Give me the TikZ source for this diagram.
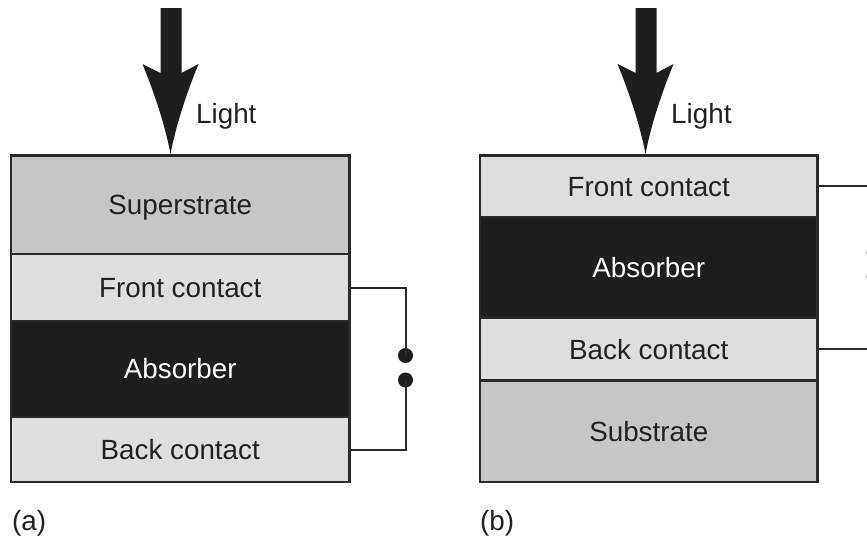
\documentclass[tikz,border=0pt]{standalone}
\usepackage{fontspec}
\setmainfont{Liberation Sans}
\definecolor{subgray}{HTML}{C6C6C7}
\definecolor{congray}{HTML}{DDDEE0}
\definecolor{absblack}{HTML}{1F1E1D}
\definecolor{edge}{HTML}{2A2A2A}
\definecolor{txt}{HTML}{222222}
\tikzset{
  layer/.style={draw=edge, line width=2.6pt, rectangle, inner sep=0pt,
    font=\fontsize{27.8}{32}\selectfont, text=txt, text height=19.9pt, text depth=0pt},
  wire/.style={draw=edge, line width=2pt},
  dotnode/.style={circle, fill=absblack, inner sep=0pt, minimum size=15pt},
  lbl/.style={font=\fontsize{27.8}{32}\selectfont, text=txt, inner sep=0pt, text height=19.9pt, text depth=0pt},
  bigarrow/.style={fill=absblack, draw=none}
}
\begin{document}
\begin{tikzpicture}[x=1pt,y=-1pt]
\clip (0,0) rectangle (867,536);
\fill[white] (0,0) rectangle (867,536);
% ---------- (a) ----------
\node[layer, fill=subgray, minimum width=338.5pt, minimum height=98.5pt] (supA) at (180.25,204.75) {Superstrate};
\node[layer, fill=congray, minimum width=338.5pt, minimum height=67pt] (fcA) at (180.25,287.5) {Front contact};
\node[layer, fill=absblack, text=white, minimum width=338.5pt, minimum height=96pt] (abA) at (180.25,369) {Absorber};
\node[layer, fill=congray, minimum width=338.5pt, minimum height=65pt] (bcA) at (180.25,449.5) {Back contact};
\node[dotnode] (dA1) at (405.5,355.5) {};
\node[dotnode] (dA2) at (405.5,380) {};
\draw[wire] (fcA.east) -| (dA1.center);
\draw[wire] (bcA.east) -| (dA2.center);
% arrow a
\fill[bigarrow] (160.5,8) -- (181.5,8) -- (181.5,73) -- (198.5,64)
  .. controls (186,95) and (176,125) .. (170.5,154)
  .. controls (165,125) and (155,95) .. (142.5,64)
  -- (160.5,73) -- cycle;
\node[lbl, anchor=west] (lightA) at (196,114) {Light};
\node[lbl, anchor=west] (labA) at (12,521) {(a)};
% ---------- (b) ----------
\node[layer, fill=congray, minimum width=337.5pt, minimum height=61.5pt] (fcB) at (648.75,186.25) {Front contact};
\node[layer, fill=absblack, text=white, minimum width=337.5pt, minimum height=101pt] (abB) at (648.75,267.5) {Absorber};
\node[layer, fill=congray, minimum width=337.5pt, minimum height=62.5pt] (bcB) at (648.75,349.25) {Back contact};
\node[layer, fill=subgray, minimum width=337.5pt, minimum height=101.5pt] (subB) at (648.75,431.25) {Substrate};
\node[dotnode] (dB1) at (874,253) {};
\node[dotnode] (dB2) at (874,277) {};
\draw[wire] (fcB.east) -| (dB1.center);
\draw[wire] (bcB.east) -| (dB2.center);
% arrow b
\fill[bigarrow] (635.5,8) -- (656.5,8) -- (656.5,73) -- (673.5,64)
  .. controls (661,95) and (651,125) .. (645.5,154)
  .. controls (640,125) and (630,95) .. (617.5,64)
  -- (635.5,73) -- cycle;
\node[lbl, anchor=west] (lightB) at (671,114) {Light};
\node[lbl, anchor=west] (labB) at (480,521) {(b)};
\end{tikzpicture}
\end{document}
